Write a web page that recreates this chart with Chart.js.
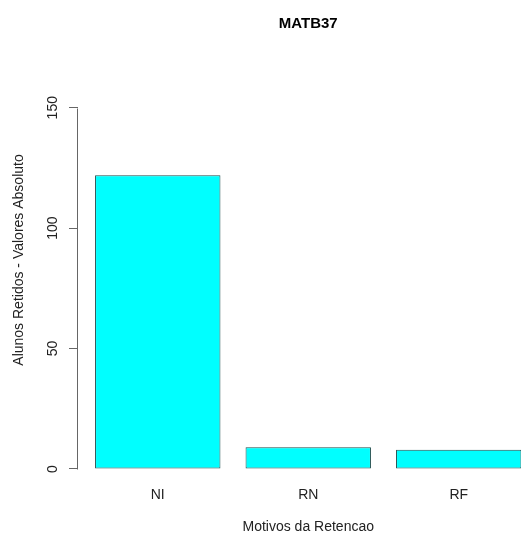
<!DOCTYPE html>
<html>
<head>
<meta charset="utf-8">
<script src="https://cdn.jsdelivr.net/npm/chart.js@4.4.1/dist/chart.umd.min.js"></script>
<style>
  html, body { margin: 0; padding: 0; background: #fff; overflow: hidden; }
  canvas { display: block; }
</style>
</head>
<body>
<canvas id="myChart" width="539" height="534"></canvas>
<script>
/* Data */
var categories = ["NI", "RN", "RF"];
var values = [122, 9, 8];
var yTicks = [0, 50, 100, 150];

var chartTitle = "MATB37";
var xTitle = "Motivos da Retencao";
var yTitle = "Alunos Retidos - Valores Absoluto";

Chart.defaults.font.family = '"Liberation Sans", Arial, sans-serif';

/* R style labels and the y axis line that stops at the last tick */
var rLabels = {
    id: 'rLabels',
    afterDraw: function (chart) {
        var c = chart.ctx;
        var area = chart.chartArea;
        var y = chart.scales.y;
        var cx = (area.left + area.right) / 2;

        c.save();
        // axis line from 0 to 150
        c.strokeStyle = '#666';
        c.lineWidth = 1;
        c.beginPath();
        var ax = Math.round(area.left) - 0.5;
        c.moveTo(ax, Math.round(y.getPixelForValue(yTicks[0])) + 0.5);
        c.lineTo(ax, Math.round(y.getPixelForValue(yTicks[yTicks.length - 1])) + 0.5);
        c.stroke();

        c.fillStyle = '#000';
        c.textAlign = 'center';
        c.textBaseline = 'middle';
        c.font = 'bold 15px "Liberation Sans", Arial, sans-serif';
        c.fillText(chartTitle, cx, 24);

        c.fillStyle = '#222';
        c.font = '14px "Liberation Sans", Arial, sans-serif';
        c.fillText(xTitle, cx, 527);

        c.translate(19, 260);
        c.rotate(-Math.PI / 2);
        c.fillText(yTitle, 0, 0);
        c.restore();
    }
};

var ctx = document.getElementById('myChart').getContext('2d');
var myChart = new Chart(ctx, {
    type: 'bar',
    data: {
        datasets: [{
            data: values.map(function (v, i) { return { x: i, y: v }; }),
            backgroundColor: '#00ffff',
            borderColor: '#1f4d4d',
            borderWidth: 1,
            borderSkipped: false,
            barPercentage: 1 / 1.2,
            categoryPercentage: 1
        }]
    },
    options: {
        responsive: false,
        animation: false,
        layout: { padding: { top: 93.25, right: 0.5, bottom: 0, left: 0 } },
        plugins: {
            legend: { display: false },
            title: { display: false },
            tooltip: { enabled: false }
        },
        scales: {
            x: {
                type: 'linear',
                offset: false,
                min: -0.53,
                max: 2.53,
                grid: { display: false, drawTicks: false },
                border: { display: false },
                afterBuildTicks: function (scale) {
                    scale.ticks = categories.map(function (c, i) { return { value: i }; });
                },
                afterFit: function (scale) { scale.height = 50.55; },
                ticks: {
                    autoSkip: false,
                    maxRotation: 0,
                    padding: 3,
                    color: '#222',
                    font: { size: 14 },
                    callback: function (v) { return categories[v]; }
                }
            },
            y: {
                min: -6,
                max: 156,
                grid: {
                    drawOnChartArea: false,
                    drawTicks: true,
                    tickLength: 9,
                    color: '#666'
                },
                border: { display: false },
                afterBuildTicks: function (scale) {
                    scale.ticks = yTicks.map(function (v) { return { value: v }; });
                },
                afterFit: function (scale) { scale.width = 78; },
                ticks: {
                    minRotation: 90,
                    maxRotation: 90,
                    crossAlign: 'center',
                    padding: 4,
                    color: '#222',
                    font: { size: 14 }
                }
            }
        }
    },
    plugins: [rLabels]
});
</script>
</body>
</html>
